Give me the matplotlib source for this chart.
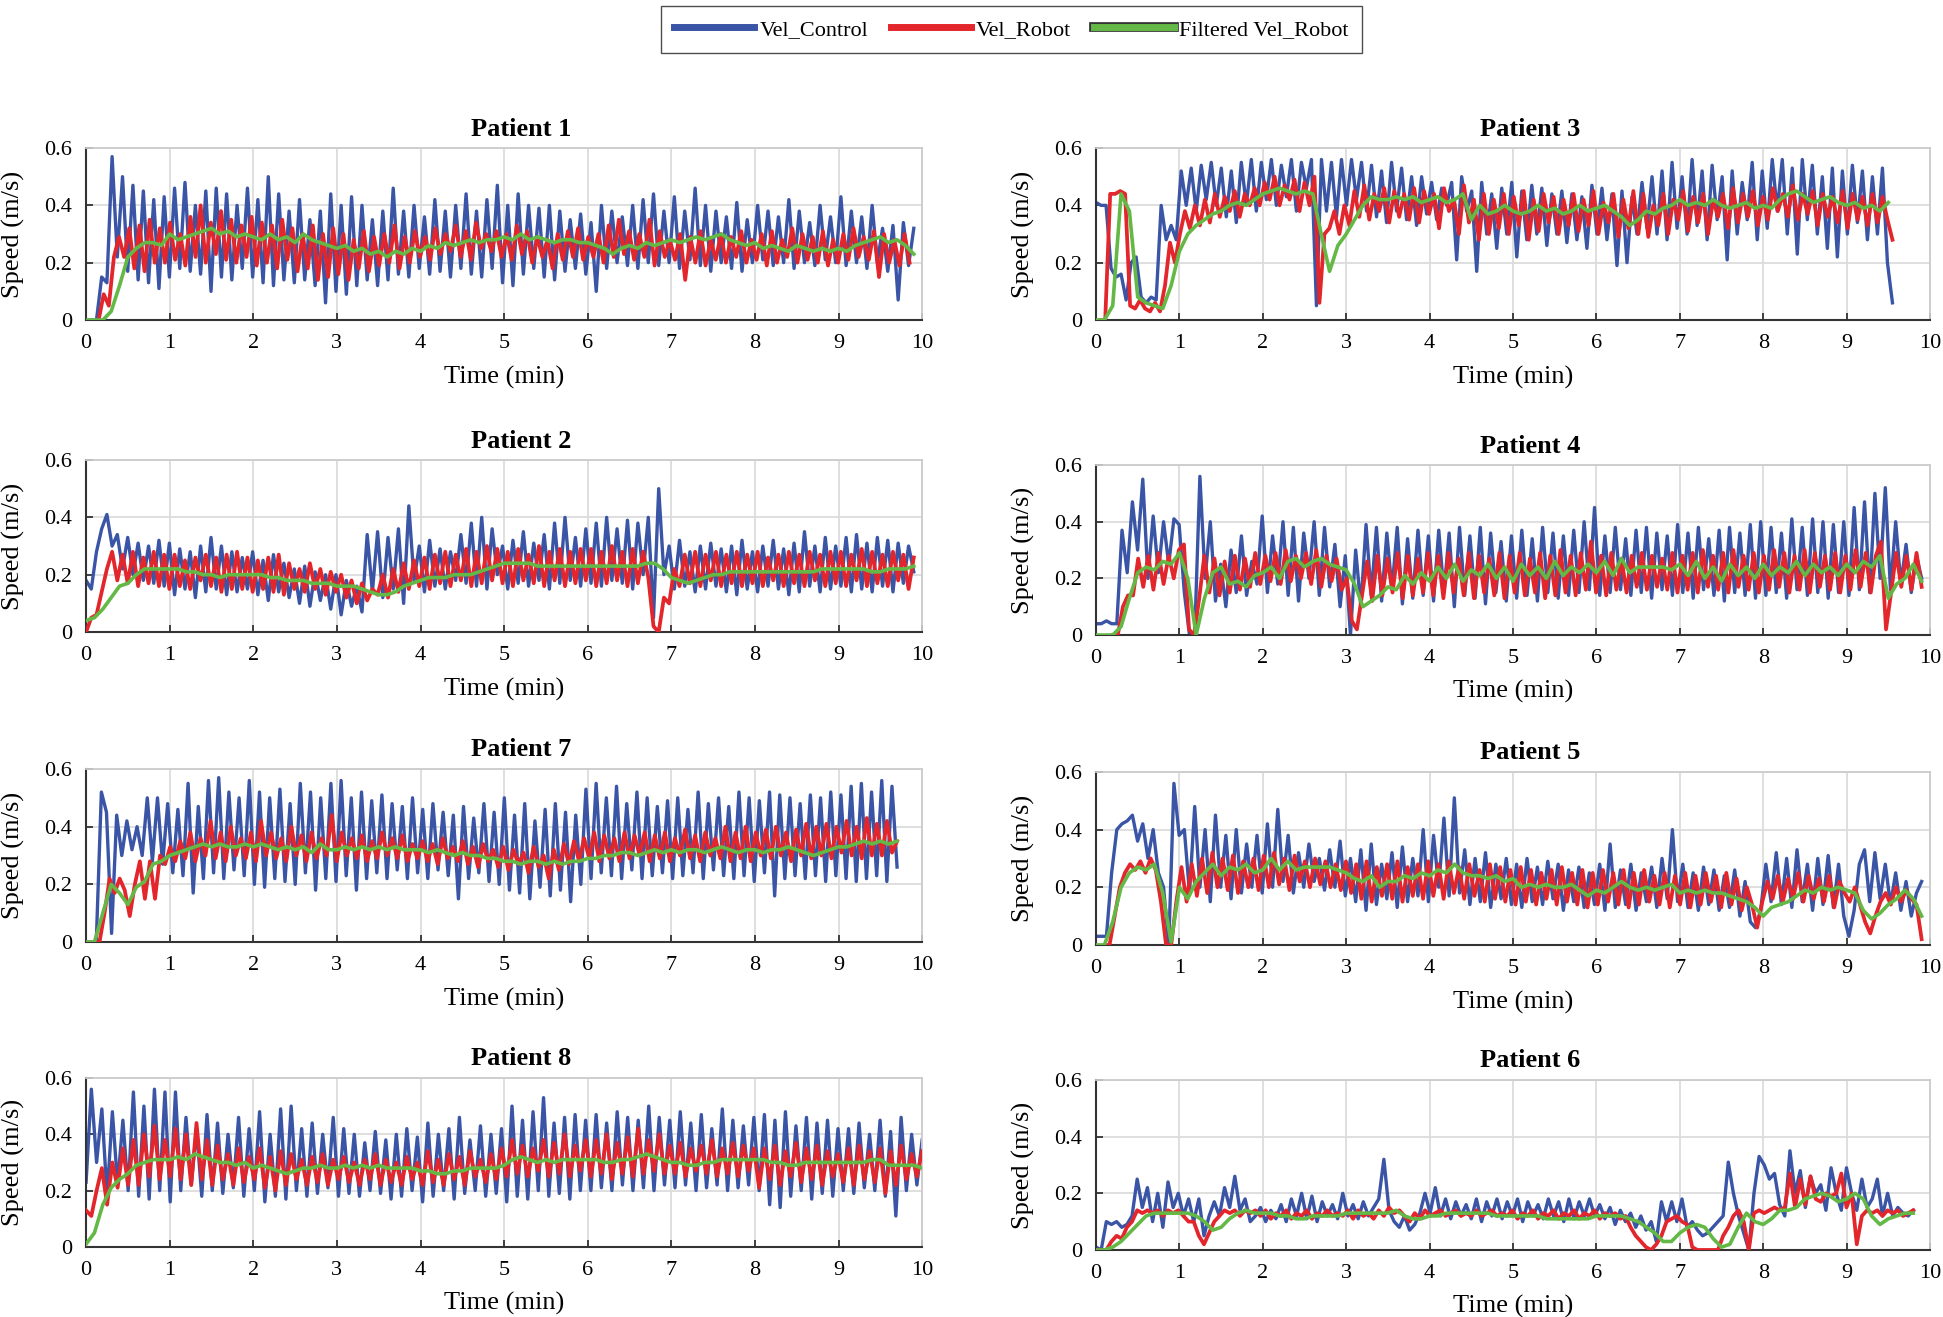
import numpy as np
import matplotlib
matplotlib.use('Agg')
import matplotlib.pyplot as plt
from matplotlib.lines import Line2D
import matplotlib.patheffects as pe

plt.rcParams['font.family'] = ['Liberation Serif', 'DejaVu Serif']

# Speeds, in cm/s (converted to m/s when plotted).
# Each series is sampled evenly between its start and end time (min).

# ---- Patient 1
p1_control_span = (0, 9.9)
p1_control = [0,0,0,15,13,57,22,50,17,47,14,45,13,42,11,43,
              15,46,18,48,17,40,16,45,10,46,15,44,14,40,18,46,
              15,42,13,50,12,44,14,38,13,42,14,35,12,38,6,44,
              10,40,9,43,12,40,14,35,12,38,14,46,16,38,15,40,
              18,36,16,42,17,38,15,40,18,44,16,38,15,42,18,47,
              13,40,12,44,16,40,18,39,15,40,14,38,17,35,18,37,
              16,34,10,40,18,38,20,36,19,40,18,42,20,44,19,38,
              20,43,18,38,21,46,19,40,17,38,20,36,18,41,17,35,
              20,40,21,38,19,36,20,42,18,38,20,34,19,40,21,36,
              20,43,19,38,20,36,18,40,20,32,17,33,7,34,19,32]
p1_robot_span = (0.15, 9.85)
p1_robot = [0,9,5,22,29,22,32,18,33,17,35,20,32,20,34,21,
            30,19,36,22,40,20,34,23,38,21,35,20,33,22,36,19,
            34,20,33,18,35,21,32,17,30,18,33,14,30,15,32,16,
            30,14,28,18,31,17,29,19,30,20,33,18,29,20,31,22,
            29,21,32,23,30,24,33,22,31,21,34,25,30,24,31,22,
            30,21,33,23,31,20,29,22,28,18,30,21,31,22,32,21,
            29,22,30,20,33,22,35,23,31,21,30,22,35,19,31,22,
            28,21,30,14,29,20,31,19,28,21,30,20,29,22,31,20,
            28,21,30,19,31,20,28,22,32,20,30,21,29,20,31,19,
            28,20,30,21,32,22,29,21,31,15,30,20,28,19,30,20]
p1_filtered_span = (0, 9.9)
p1_filtered = [0,0,0,3,12,22,25,27,27,26,
               30,28,29,30,31,32,30,31,29,30,
               29,28,30,28,29,27,30,28,27,26,
               25,26,24,25,23,24,22,24,23,25,
               24,26,25,27,26,27,28,27,28,28,
               29,28,30,28,29,28,27,28,28,27,
               27,26,25,23,25,26,25,27,26,27,
               28,27,28,29,28,29,30,28,27,26,
               27,25,26,25,24,26,25,24,25,24,
               25,24,26,27,28,29,27,28,26,23]

# ---- Patient 2
p2_control_span = (0, 9.9)
p2_control = [18,15,28,36,41,30,34,22,33,20,31,18,30,17,32,16,
              31,13,29,15,28,12,30,14,33,15,30,13,28,14,26,15,
              28,13,25,11,27,14,24,12,22,10,23,9,21,11,20,8,
              20,6,18,9,16,7,34,14,35,12,33,15,36,10,44,18,
              30,14,32,16,29,15,28,18,34,17,38,16,40,15,36,20,
              30,15,32,17,35,16,31,18,34,15,38,17,40,18,33,16,
              36,17,38,16,40,18,36,17,39,15,38,20,40,5,50,20,
              30,15,32,16,28,14,30,15,31,16,29,14,30,13,32,15,
              28,14,30,16,32,15,29,13,31,14,35,16,30,14,33,15,
              30,16,33,14,34,15,31,14,33,16,32,14,31,17,30,21]
p2_robot_span = (0, 9.9)
p2_robot = [0,5,6,14,22,28,18,27,17,28,16,26,17,28,16,27,
            15,27,16,25,15,26,18,27,16,26,14,27,15,28,15,26,
            14,25,15,26,14,27,13,24,15,22,14,24,15,22,13,21,
            14,20,12,18,10,17,11,15,13,20,12,22,14,24,15,25,
            16,26,15,27,17,28,16,27,18,29,16,28,17,30,18,29,
            17,28,16,29,18,27,17,30,16,28,18,29,16,28,17,29,
            18,29,16,28,17,30,18,28,16,29,17,28,19,2,0,12,
            10,22,16,27,17,28,16,27,18,28,16,27,17,28,16,27,
            17,28,16,26,18,27,16,28,17,27,16,28,18,27,16,28,
            17,28,16,27,18,29,16,28,17,27,16,28,18,27,15,26]
p2_filtered_span = (0, 9.9)
p2_filtered = [4,5,8,12,16,17,20,22,22,22,
               22,22,21,21,20,20,19,20,20,20,
               20,20,19,19,18,18,18,17,17,17,
               16,16,16,15,14,13,13,14,16,17,
               18,19,19,19,20,20,20,21,22,23,
               24,24,24,24,23,23,23,23,23,23,
               23,23,23,23,23,23,23,24,24,22,
               19,18,17,18,19,20,20,21,21,21,
               21,21,21,21,21,21,21,21,22,22,
               22,22,22,22,21,21,22,22,22,23]

# ---- Patient 7
p7_control_span = (0, 9.7)
p7_control = [0,0,0,52,45,3,44,30,42,32,40,30,50,28,50,27,
              48,24,46,23,55,17,47,22,56,24,57,22,52,25,50,23,
              56,20,52,19,50,22,53,21,48,20,55,24,52,18,50,22,
              55,21,56,23,50,18,52,22,49,24,51,22,48,25,47,22,
              50,24,46,22,48,25,45,23,44,15,47,22,43,24,48,21,
              45,20,50,18,44,17,48,15,42,19,46,16,48,18,45,14,
              44,20,53,22,55,24,50,23,54,22,48,25,52,22,50,23,
              47,24,49,22,50,23,46,24,52,22,48,25,50,23,47,22,
              52,23,50,21,49,24,52,16,51,22,50,23,48,22,51,23,
              50,21,52,23,51,22,54,21,55,22,52,23,56,21,54,26]
p7_robot_span = (0.1, 9.7)
p7_robot = [0,0,10,22,17,22,18,9,20,28,15,28,15,30,27,33,
            28,35,29,38,28,36,30,42,29,38,28,40,30,36,29,38,
            28,42,30,38,29,36,28,40,30,37,28,38,29,36,30,44,
            28,38,30,36,29,37,28,35,29,38,30,36,29,37,28,34,
            29,35,28,34,27,36,29,33,28,35,27,33,26,34,28,32,
            26,33,25,32,27,31,24,33,26,30,22,32,25,34,27,35,
            28,36,29,38,28,37,29,36,28,38,29,37,30,38,28,37,
            29,38,28,36,30,39,29,37,28,38,30,36,29,40,28,38,
            29,40,28,38,30,39,29,40,30,38,28,39,30,41,29,40,
            30,41,29,40,31,42,30,40,29,43,30,41,30,42,31,35]
p7_filtered_span = (0, 9.7)
p7_filtered = [0,0,10,20,17,13,19,21,27,28,
               30,31,32,33,34,33,34,33,33,34,
               33,34,33,32,33,32,33,31,34,32,
               32,33,32,33,32,33,32,33,32,32,
               32,31,32,31,30,31,30,30,29,29,
               28,28,27,28,28,27,28,27,28,28,
               29,29,30,30,31,31,30,31,32,31,
               32,31,32,32,31,32,33,32,31,32,
               32,31,32,32,33,32,31,30,31,32,
               33,33,34,35,34,35,34,35]

# ---- Patient 8
p8_control_span = (0, 10)
p8_control = [23,56,30,49,18,48,22,45,20,55,18,50,17,56,20,55,
              16,55,20,46,22,42,18,47,20,44,19,40,21,46,18,42,
              20,48,16,40,18,49,17,50,20,42,18,44,19,40,21,46,
              18,42,19,40,18,37,20,41,19,38,17,40,18,42,20,39,
              16,44,18,40,20,42,17,46,19,38,20,43,18,40,19,42,
              16,50,18,45,17,48,20,53,18,44,19,46,17,47,20,45,
              20,47,21,44,20,48,22,46,20,45,21,50,20,46,22,45,
              21,48,22,44,20,47,21,42,22,49,20,45,21,43,22,46,
              20,47,15,45,14,48,18,43,20,46,17,44,19,45,18,42,
              20,42,19,44,21,40,20,45,18,41,11,46,20,40,22,38]
p8_robot_span = (0, 10)
p8_robot = [13,11,20,28,15,30,21,35,22,38,22,40,25,43,24,38,
            25,42,24,40,22,44,24,38,22,36,24,33,22,35,23,32,
            24,35,21,32,20,34,22,33,24,31,22,32,23,33,22,31,
            24,32,23,30,22,31,24,33,22,31,23,30,22,32,24,30,
            22,34,23,31,22,33,24,32,22,34,25,31,23,33,24,35,
            25,38,26,36,25,35,27,38,25,37,26,40,25,36,27,38,
            25,38,26,40,24,37,26,39,25,42,26,38,27,40,26,36,
            26,37,25,35,27,36,26,38,25,35,26,37,25,36,27,35,
            21,35,24,36,22,34,25,37,23,35,24,36,22,34,25,33,
            23,35,22,36,24,34,23,35,19,34,22,36,24,33,25,34]
p8_filtered_span = (0, 10)
p8_filtered = [1,5,15,21,24,26,29,30,31,31,
               31,32,31,33,32,31,30,30,29,30,
               28,29,28,27,26,27,28,28,29,28,
               28,29,28,29,28,29,28,28,28,28,
               27,27,26,26,27,27,28,28,28,28,
               29,31,32,31,30,31,30,31,31,31,
               31,31,30,30,31,31,32,33,32,31,
               30,30,29,29,30,30,31,31,31,31,
               31,31,30,30,29,29,30,30,30,30,
               30,30,30,30,31,31,29,29,29,29,
               28]

# ---- Patient 3
p3_control_span = (0, 9.55)
p3_control = [41,40,40,18,15,16,7,20,22,8,6,8,7,40,28,33,
              28,52,40,53,38,54,42,55,40,53,36,52,34,55,40,56,
              38,55,42,56,40,54,43,56,38,55,46,56,5,56,38,55,
              36,56,40,56,42,55,38,54,36,52,34,55,38,53,35,50,
              33,50,37,48,35,46,40,48,21,50,38,45,17,48,30,44,
              25,46,30,48,22,45,28,47,30,46,26,44,30,45,27,44,
              28,43,25,47,30,46,28,44,19,45,20,43,30,48,32,50,
              30,52,28,55,32,50,30,56,33,52,28,54,35,50,21,52,
              30,48,35,55,28,52,32,56,38,56,30,53,23,56,35,54,
              30,50,25,53,22,52,30,54,34,52,28,50,30,53,20,6]
p3_robot_span = (0.05, 9.55)
p3_robot = [0,0,44,44,45,44,5,4,7,4,3,6,3,12,27,20,
            30,38,32,40,33,42,34,44,36,43,38,45,36,44,40,46,
            40,48,42,50,40,47,42,49,38,48,40,50,6,30,32,38,
            30,40,33,45,36,47,35,44,38,46,34,45,36,44,35,46,
            34,45,37,44,32,46,38,42,30,47,34,42,28,44,30,42,
            32,44,30,43,33,45,28,42,31,44,34,43,30,42,33,44,
            31,42,33,45,30,41,34,44,29,42,32,45,30,44,29,40,
            33,44,30,42,35,45,31,43,34,44,30,42,36,44,32,46,
            34,44,36,45,33,43,35,46,38,44,36,47,35,44,37,45,
            33,44,36,43,34,45,32,44,35,43,33,44,34,43,35,28]
p3_filtered_span = (0, 9.5)
p3_filtered = [0,0,5,44,38,8,6,5,4,12,
               24,30,33,35,37,38,40,41,40,42,
               44,45,46,45,44,45,44,30,17,26,
               30,35,40,43,42,42,43,42,43,41,
               42,43,41,42,44,35,40,37,38,40,
               38,37,38,40,38,39,37,38,40,38,
               39,40,38,36,33,35,38,37,39,40,
               42,40,41,40,42,40,39,40,41,39,
               40,39,42,44,45,43,41,42,43,41,
               40,41,39,40,38,41]

# ---- Patient 4
p4_control_span = (0, 9.9)
p4_control = [4,4,5,4,4,37,22,47,30,55,20,42,22,40,25,41,
              39,15,0,0,56,20,40,12,25,10,30,15,35,14,26,18,
              42,15,35,18,40,14,38,12,36,20,40,14,38,17,32,10,
              28,0,30,10,39,14,38,12,36,16,38,11,34,13,37,14,
              35,12,37,15,36,10,38,14,35,13,38,11,36,15,33,12,
              35,13,37,14,34,12,38,15,36,13,35,14,37,15,40,16,
              45,14,35,15,38,16,34,14,37,15,38,13,36,16,35,14,
              39,15,36,13,38,16,34,14,37,12,38,15,36,14,39,13,
              40,14,38,15,36,13,41,16,38,14,41,15,40,13,39,15,
              40,14,45,16,47,15,50,20,52,16,40,18,32,15,28,20]
p4_robot_span = (0.2, 9.9)
p4_robot = [0,0,10,14,14,27,17,28,16,29,18,28,20,30,32,2,
            0,13,28,15,27,14,26,15,28,16,27,17,29,18,28,19,
            29,18,30,19,28,20,29,18,30,17,28,19,27,16,20,5,
            2,14,26,12,28,14,27,15,29,13,28,14,27,15,29,14,
            28,13,29,15,27,14,29,13,28,15,27,14,29,13,28,15,
            29,14,27,15,29,13,28,14,30,15,28,14,29,16,33,15,
            28,14,29,16,27,15,28,17,29,16,28,17,27,16,29,15,
            28,16,29,15,30,17,28,16,29,15,30,17,28,16,29,15,
            28,16,30,17,29,15,28,16,30,15,29,17,28,16,29,15,
            28,16,30,17,29,15,28,33,2,15,29,17,28,16,29,17]
p4_filtered_span = (0, 9.9)
p4_filtered = [0,0,0,3,13,22,24,23,26,25,
               29,20,0,13,22,24,18,19,17,21,
               22,24,20,26,27,24,26,27,25,24,
               23,18,10,12,14,17,16,21,18,22,
               19,24,20,25,19,23,21,25,20,24,
               19,25,21,24,20,26,21,24,22,25,
               22,26,21,27,22,24,24,24,24,23,
               25,21,26,20,24,19,25,21,24,20,
               25,21,24,22,26,21,25,22,24,21,
               25,22,26,24,28,13,18,20,25,19]

# ---- Patient 5
p5_control_span = (0, 9.9)
p5_control = [3,3,3,25,40,42,43,45,36,42,30,40,25,20,0,56,
              38,40,18,48,20,40,15,45,20,38,16,40,18,35,20,38,
              18,42,20,47,22,38,18,32,20,35,22,30,19,33,20,36,
              17,30,15,33,12,35,14,28,16,32,13,34,15,30,17,40,
              15,38,20,44,17,51,18,33,14,30,15,32,13,28,16,30,
              14,28,13,30,15,27,14,29,16,28,12,26,15,27,13,25,
              14,28,12,35,13,26,14,28,12,25,15,27,13,30,16,40,
              15,28,13,25,12,27,14,26,12,24,13,26,10,22,8,6,
              12,28,15,32,14,30,13,33,15,28,12,30,14,31,13,28,
              10,3,12,28,33,15,32,16,28,14,25,12,22,10,18,22]
p5_robot_span = (0.1, 9.9)
p5_robot = [0,0,10,20,25,28,26,29,25,30,26,15,0,0,15,27,
            15,28,17,30,18,32,20,30,19,31,18,29,20,30,19,31,
            20,32,21,30,19,31,22,29,20,30,21,29,20,28,19,29,
            18,28,16,29,15,27,17,28,16,29,15,27,17,28,16,29,
            17,28,16,29,18,27,16,28,17,26,15,28,16,27,15,26,
            14,27,15,26,14,25,16,26,14,27,15,25,14,26,13,25,
            14,26,15,25,14,26,13,25,14,26,15,24,14,25,13,24,
            14,25,13,24,14,25,15,24,13,25,14,23,12,20,14,6,
            15,22,16,24,15,23,16,25,15,24,16,23,15,24,13,22,
            18,15,20,14,8,4,10,15,18,14,20,15,19,16,14,2]
p5_filtered_span = (0, 9.9)
p5_filtered = [0,0,8,20,25,27,26,28,18,1,
               20,16,22,25,28,24,27,26,28,25,
               26,30,26,29,26,27,27,27,27,26,
               25,23,22,24,20,22,22,24,23,25,
               24,26,25,28,25,24,24,23,24,22,
               23,20,21,20,21,20,20,21,19,17,
               19,18,20,22,20,19,20,19,20,21,
               18,19,18,19,18,18,17,16,15,13,
               10,13,14,15,17,19,18,20,19,20,
               19,18,12,9,11,14,16,19,16,10]

# ---- Patient 6
p6_control_span = (0, 9.8)
p6_control = [1,0,10,9,10,8,9,12,25,15,22,10,20,8,24,15,
              20,12,18,10,18,5,12,17,12,22,15,26,14,18,10,12,
              15,10,14,11,16,10,18,12,20,11,19,10,17,12,16,11,
              20,12,16,11,17,12,15,18,32,14,10,8,12,7,9,13,
              20,13,22,12,18,11,17,12,16,11,18,10,17,12,18,11,
              17,12,18,10,17,12,16,11,18,12,17,10,18,11,17,12,
              18,12,16,11,15,9,14,10,13,8,12,7,10,3,17,10,
              17,10,18,8,10,7,5,6,8,10,12,31,20,12,6,0,
              20,33,30,25,27,16,12,35,20,28,15,26,20,23,14,29,
              20,14,29,20,14,25,15,18,25,12,20,12,15,13,12,14]
p6_robot_span = (0, 9.8)
p6_robot = [0,0,0,3,5,4,8,10,14,13,14,13,14,12,14,13,
            14,12,10,10,5,2,6,10,12,14,13,14,12,14,13,14,
            12,14,11,13,12,14,11,13,12,14,11,13,12,14,12,13,
            12,14,11,14,12,13,11,14,12,15,13,14,12,10,13,11,
            14,12,13,14,12,13,14,12,13,12,14,12,13,14,12,13,
            12,14,11,13,12,14,11,13,12,14,11,13,12,14,11,13,
            12,14,11,13,12,13,11,12,8,5,3,1,0,2,5,10,
            11,12,10,9,1,0,0,0,0,0,5,8,12,14,10,0,
            13,14,13,14,15,14,15,27,15,25,16,26,18,17,20,19,
            20,27,15,20,2,12,14,13,14,12,14,13,14,12,13,14]
p6_filtered_span = (0, 9.8)
p6_filtered = [0,0,1,3,6,9,12,13,13,13,
               13,13,12,10,7,8,11,13,14,13,
               13,13,12,12,11,11,12,12,12,12,
               13,13,13,13,13,13,14,12,11,11,
               12,12,13,13,13,13,13,13,12,12,
               12,12,12,12,11,11,11,11,11,11,
               12,12,12,12,11,10,8,6,3,3,
               6,8,9,8,4,1,2,8,13,10,
               9,11,14,14,15,18,19,20,19,17,
               18,20,18,12,9,11,12,13,13]

blue = '#3a54a6'
red = '#e3262b'
green = '#64b946'

# title, axes rectangle (figure fraction), series
panels = [
    ('Patient 1', [0.0443, 0.7570, 0.4303, 0.1306],
     (p1_control, p1_control_span), (p1_robot, p1_robot_span), (p1_filtered, p1_filtered_span)),
    ('Patient 2', [0.0443, 0.5201, 0.4303, 0.1306],
     (p2_control, p2_control_span), (p2_robot, p2_robot_span), (p2_filtered, p2_filtered_span)),
    ('Patient 7', [0.0443, 0.2847, 0.4303, 0.1314],
     (p7_control, p7_control_span), (p7_robot, p7_robot_span), (p7_filtered, p7_filtered_span)),
    ('Patient 8', [0.0443, 0.0532, 0.4303, 0.1283],
     (p8_control, p8_control_span), (p8_robot, p8_robot_span), (p8_filtered, p8_filtered_span)),
    ('Patient 3', [0.5641, 0.7570, 0.4292, 0.1306],
     (p3_control, p3_control_span), (p3_robot, p3_robot_span), (p3_filtered, p3_filtered_span)),
    ('Patient 4', [0.5641, 0.5178, 0.4292, 0.1291],
     (p4_control, p4_control_span), (p4_robot, p4_robot_span), (p4_filtered, p4_filtered_span)),
    ('Patient 5', [0.5641, 0.2825, 0.4292, 0.1314],
     (p5_control, p5_control_span), (p5_robot, p5_robot_span), (p5_filtered, p5_filtered_span)),
    ('Patient 6', [0.5641, 0.0509, 0.4292, 0.1291],
     (p6_control, p6_control_span), (p6_robot, p6_robot_span), (p6_filtered, p6_filtered_span)),
]

fig = plt.figure(figsize=(19.43, 13.17), dpi=100)

for title, rect, control, robot, filtered in panels:
    ax = fig.add_axes(rect)
    for (vals, span), color, lw, z in [(control, blue, 2.4, 2),
                                       (robot, red, 2.7, 3),
                                       (filtered, green, 2.6, 4)]:
        v = np.array(vals) / 100.0
        t = np.linspace(span[0], span[1], len(v))
        ax.plot(t, v, color=color, lw=lw, zorder=z, solid_joinstyle='round')

    ax.set_xlim(0, 10)
    ax.set_ylim(0, 0.6)
    ax.set_xticks(range(11))
    ax.set_yticks([0, 0.2, 0.4, 0.6])
    ax.set_yticklabels(['0', '0.2', '0.4', '0.6'])
    ax.grid(True, color='#dcdcdc', lw=1.3)
    ax.set_axisbelow(True)
    for s in ['left', 'bottom']:
        ax.spines[s].set_color('#333333')
        ax.spines[s].set_linewidth(1.5)
    for s in ['top', 'right']:
        ax.spines[s].set_color('#cccccc')
        ax.spines[s].set_linewidth(1.3)
    ax.tick_params(direction='in', length=5, width=1.3, labelsize=16, pad=10, color='#333333')

    ax.set_title(title, fontsize=19, fontweight='bold', x=0.52, pad=9)
    ax.set_xlabel('Time (min)', fontsize=19)
    ax.set_ylabel('Speed (m/s)', fontsize=19)
    ax.xaxis.set_label_coords(0.5, -0.265)
    ax.yaxis.set_label_coords(-0.073, 0.5)

# legend at the top
handles = [Line2D([], [], color=blue, lw=5),
           Line2D([], [], color=red, lw=5),
           Line2D([], [], color=green, lw=5,
                  path_effects=[pe.Stroke(linewidth=7, foreground='#333333'), pe.Normal()])]
leg = fig.legend(handles, ['Vel_Control', 'Vel_Robot', 'Filtered Vel_Robot'],
                 loc='upper center', bbox_to_anchor=(0.5205, 0.997), ncol=3, fontsize=16,
                 handlelength=3.6, handletextpad=0.25, columnspacing=1.0,
                 frameon=True, fancybox=False, edgecolor='#222222', borderpad=0.6,
                 borderaxespad=0.1)
leg.get_frame().set_linewidth(1.0)

fig.savefig('out.png', dpi=100)
